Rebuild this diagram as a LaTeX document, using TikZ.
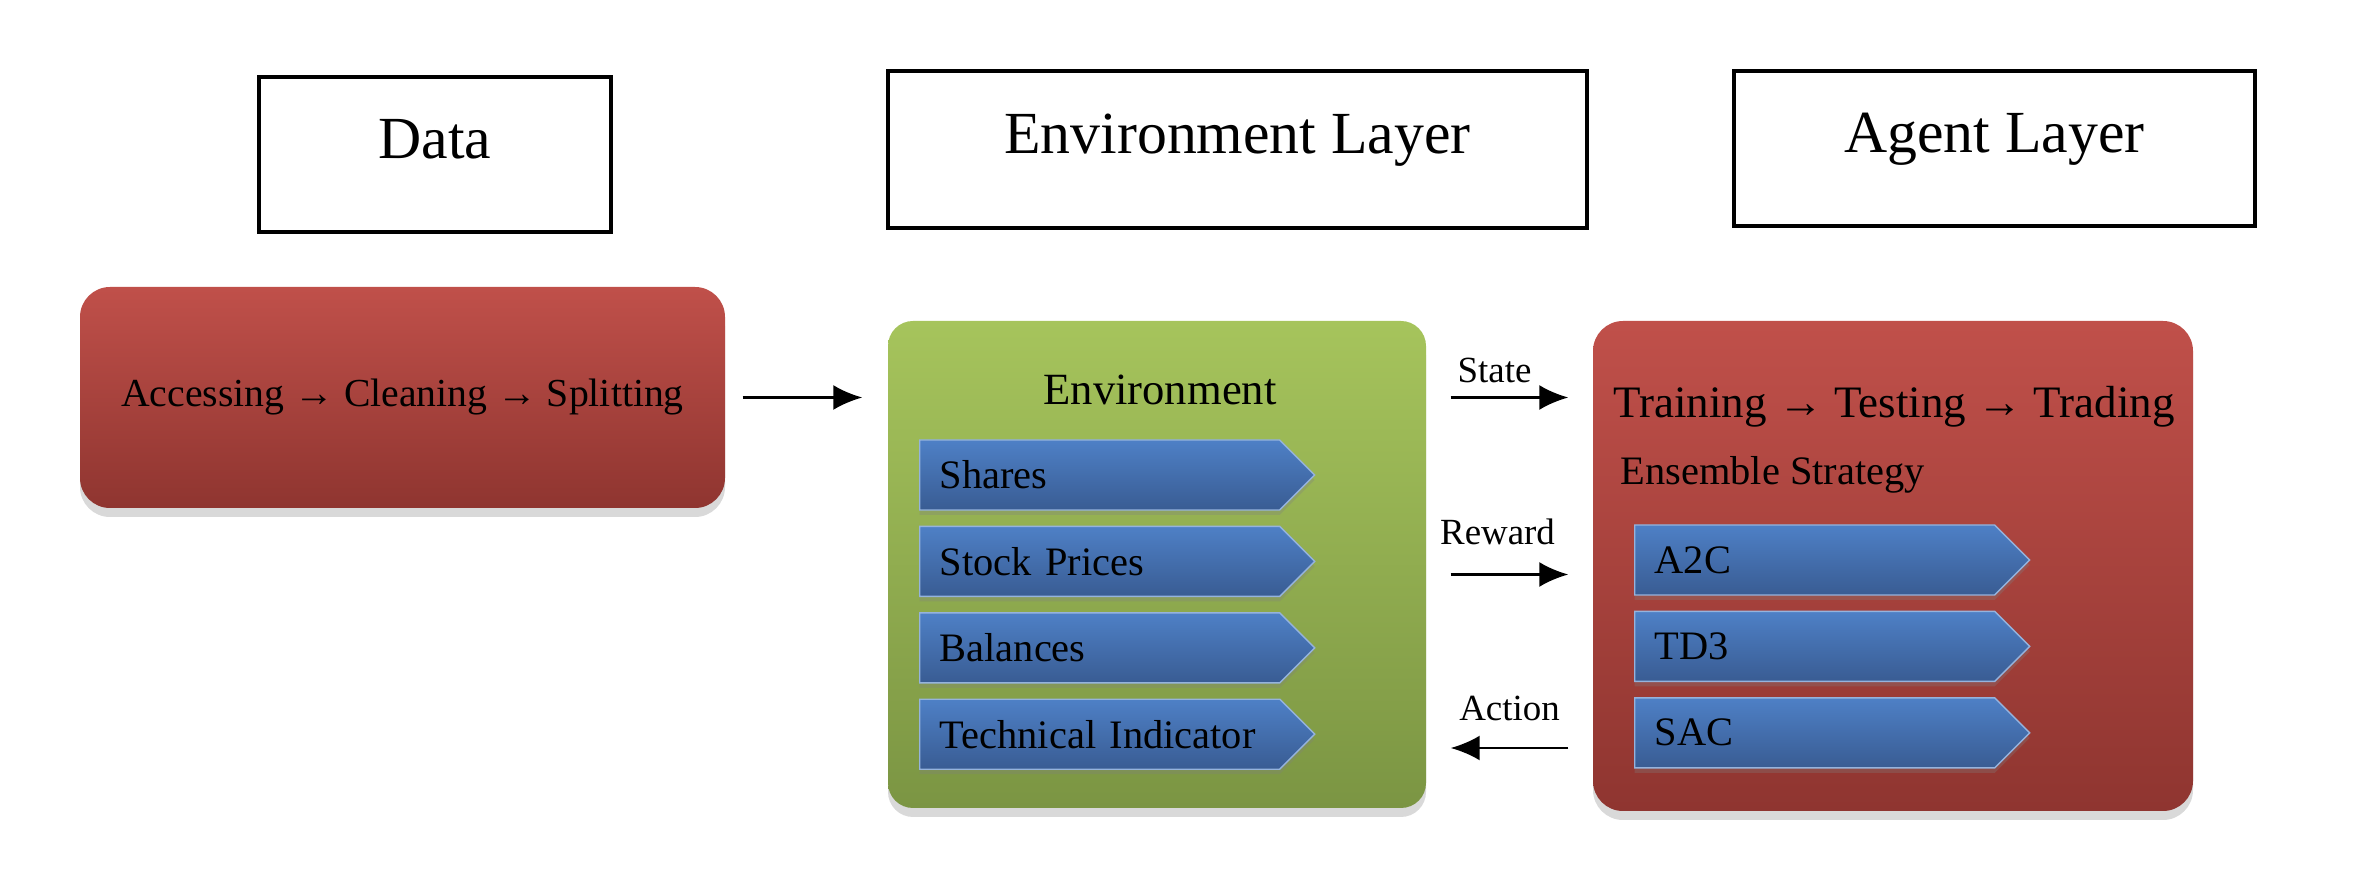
\documentclass[tikz,border=0pt]{standalone}
\usepackage{fontspec}
\setmainfont{Liberation Serif}
\usetikzlibrary{shapes.symbols,shadows,arrows.meta,positioning,calc}

\definecolor{redtop}{HTML}{C0504A}
\definecolor{redbot}{HTML}{8F3530}
\definecolor{greentop}{HTML}{A6C45C}
\definecolor{greenbot}{HTML}{7B9543}
\definecolor{bluetop}{HTML}{4E80C6}
\definecolor{bluebot}{HTML}{395C93}

\begin{document}
\begin{tikzpicture}[>={Latex[length=2.9mm,width=2.5mm]},
layer/.style={draw,line width=1.4pt,text height=0.5cm,text depth=0.42cm,
  font=\fontsize{17}{20}\selectfont},
panel/.style={drop shadow={shadow xshift=0pt,shadow yshift=-0.09cm,opacity=0.3}},
redpanel/.style={panel,rounded corners=0.3cm,top color=redtop,bottom color=redbot},
greenpanel/.style={panel,rounded corners=0.25cm,top color=greentop,bottom color=greenbot},
tag/.style={signal,signal to=east,signal pointer angle=90,
  top color=bluetop,bottom color=bluebot,draw=bluetop!60!white,line width=0.4pt,
  drop shadow={shadow xshift=0pt,shadow yshift=-0.05cm,opacity=0.3},
  text width=3.2cm,align=left,inner xsep=0.2cm,minimum height=0.70cm,
  font=\fontsize{11.5}{14}\selectfont},
flow/.style={->,line width=0.8pt,shorten <=0.24cm,shorten >=0.24cm},
lbl/.style={inner sep=1pt,font=\fontsize{10.5}{12}\selectfont}]
\useasboundingbox (0,0) rectangle (23.55,8.92);

% layer titles
\node[layer,minimum width=3.52cm,minimum height=1.55cm] (data) at (4.35,7.375) {Data};
\node[layer,minimum width=6.99cm,minimum height=1.57cm] (envlayer) at (12.375,7.425) {Environment Layer};
\node[layer,minimum width=5.21cm,minimum height=1.55cm] (agentlayer) at (19.945,7.435) {Agent Layer};

% data
\node[redpanel,minimum width=6.45cm,minimum height=2.21cm,
  font=\fontsize{11.3}{14}\selectfont] (prep) at (4.025,4.945) {Accessing → Cleaning → Splitting};

% environment
\node[greenpanel,minimum width=5.38cm,minimum height=4.87cm] (env) at (11.57,3.275) {};
\node[anchor=base,font=\fontsize{12.7}{15}\selectfont] (envtitle) at (11.6,4.87) {Environment};
\node[tag,anchor=west] (shares) at (9.19,4.17) {Shares};
\node[tag,below=0.15cm of shares] (prices) {Stock Prices};
\node[tag,below=0.15cm of prices] (balances) {Balances};
\node[tag,below=0.15cm of balances] (indicator) {Technical Indicator};

% agent
\node[redpanel,minimum width=6.0cm,minimum height=4.9cm] (agent) at (18.93,3.26) {};
\node[anchor=base,font=\fontsize{12.8}{16}\selectfont] (pipeline) at (18.94,4.74) {Training → Testing → Trading};
\node[anchor=base west,inner sep=0pt,font=\fontsize{11.5}{14}\selectfont] (ensemble) at (16.20,4.07) {Ensemble Strategy};
\node[tag,anchor=west] (atwoc) at (16.34,3.32) {A2C};
\node[tag,below=0.15cm of atwoc] (tdthree) {TD3};
\node[tag,below=0.15cm of tdthree] (sac) {SAC};

% connectors
\draw[->,line width=0.8pt,shorten <=0.17cm,shorten >=0.25cm] (prep.east) -- (prep.east -| env.west);
\draw[flow] (env.east |- prep.east) -- (agent.west |- prep.east)
  node[lbl,midway,above=0.1cm,xshift=-0.15cm] (state) {State};
\draw[flow] ([yshift=-0.1cm]env.east) -- ([yshift=-0.1cm]env.east -| agent.west)
  node[lbl,midway,above=0.25cm,xshift=-0.12cm] (reward) {Reward};
\draw[flow] ([yshift=-1.82cm]agent.west) -- ([yshift=-1.82cm]agent.west -| env.east)
  node[lbl,midway,above=0.22cm] (action) {Action};
\end{tikzpicture}
\end{document}
